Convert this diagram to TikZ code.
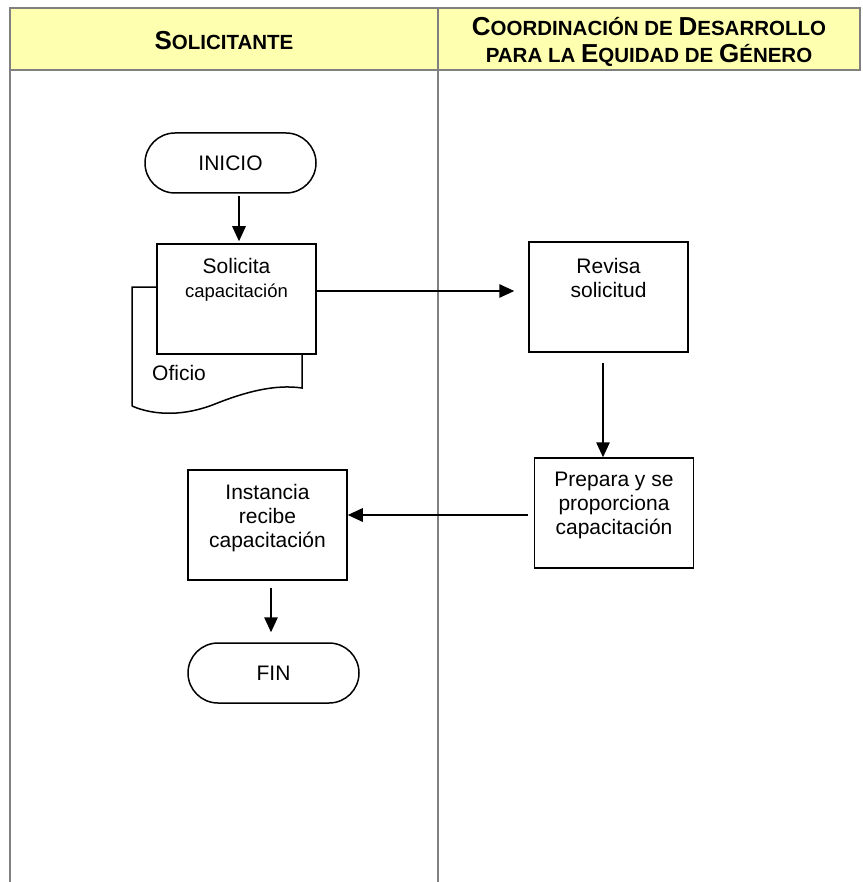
\documentclass[tikz,border=0pt]{standalone}
\usepackage{fontspec}
\setmainfont{Liberation Sans}
\usetikzlibrary{arrows.meta,positioning}
\definecolor{hdyellow}{RGB}{255,255,176}
\definecolor{lanegray}{RGB}{128,128,128}
\newcommand\hdbig[1]{{\fontsize{26}{27}\selectfont #1}}
\newcommand\hdsmall[1]{{\fontsize{20.5}{27}\selectfont #1}}

\begin{document}
\begin{tikzpicture}[x=1pt,y=-1pt,
  lane/.style={draw=lanegray,line width=2pt},
  proc/.style={draw,line width=1.5pt,fill=white,minimum width=159pt,minimum height=110pt,inner sep=0pt},
  term/.style={draw,line width=1.5pt,rounded corners=30pt,minimum width=171pt,minimum height=60pt,inner sep=0pt,font=\fontsize{21}{24}\selectfont},
  txt/.style={align=center,inner sep=0pt,font=\fontsize{21}{24}\selectfont},
  arr/.style={line width=1.5pt,-{Triangle[length=15pt,width=13.5pt]}}]
\useasboundingbox (0,0) rectangle (862,882);
% swimlanes
\fill[hdyellow] (10,8) rectangle (860,70);
\draw[lane] (10,882) -- (10,8) -- (860,8) -- (860,70) -- (10,70);
\draw[lane] (438,8) -- (438,882);
\node[font=\bfseries\fontsize{20.5}{27}\selectfont] (hdsol) at (224,41) {\hdbig{S}\hdsmall{OLICITANTE}};
\node[align=center,font=\bfseries\fontsize{20.5}{27}\selectfont] (hdcoord) at (649,42)
  {\hdbig{C}\hdsmall{OORDINACIÓN DE} \hdbig{D}\hdsmall{ESARROLLO}\\
   \hdsmall{PARA LA} \hdbig{E}\hdsmall{QUIDAD DE} \hdbig{G}\hdsmall{ÉNERO}};
% solicitante
\node[term] (inicio) at (230.5,163) {INICIO};
\draw[line width=1.5pt] (132,406) -- (132,287) -- (302,287) -- (302,388)
  .. controls (275,384) and (245,392) .. (215,404)
  .. controls (185,416) and (155,416) .. (132,406);
\node[txt,anchor=west] (oficio) at (152,373) {Oficio};
\node[proc] (sol) at (236.5,299) {};
\node[txt,below=15pt of sol.north] (soltx) {Solicita\\{\fontsize{18.5}{21}\selectfont capacitación}};
\node[proc] (inst) at (267.5,525) {};
\node[txt,below=15pt of inst.north] (insttx) {Instancia\\recibe\\capacitación};
\node[term] (fin) at (273.5,673) {FIN};
% coordinacion
\node[proc] (rev) at (608.5,297) {};
\node[txt,below=17pt of rev.north] (revtx) {Revisa\\solicitud};
\node[proc] (prep) at (614,513) {};
\node[txt,below=15pt of prep.north] (preptx) {Prepara y se\\proporciona\\capacitación};
% flujo
\coordinate (inout) at ([xshift=8.5pt]inicio.south);
\draw[arr,shorten <=2pt,shorten >=2pt] (inout) -- (inout |- sol.north);
\coordinate (solout) at ([yshift=8pt]sol.east);
\draw[arr,shorten >=14pt] (solout) -- (solout -| rev.west);
\coordinate (revout) at ([xshift=-5.5pt]rev.south);
\draw[arr,shorten <=10pt] (revout) -- (revout |- prep.north);
\coordinate (prepout) at ([yshift=-2pt]prep.west);
\draw[arr,shorten <=6pt] (prepout) -- (prepout -| inst.east);
\coordinate (instout) at ([xshift=3.5pt]inst.south);
\draw[arr,shorten <=7pt,shorten >=10pt] (instout) -- (instout |- fin.north);
\end{tikzpicture}
\end{document}
